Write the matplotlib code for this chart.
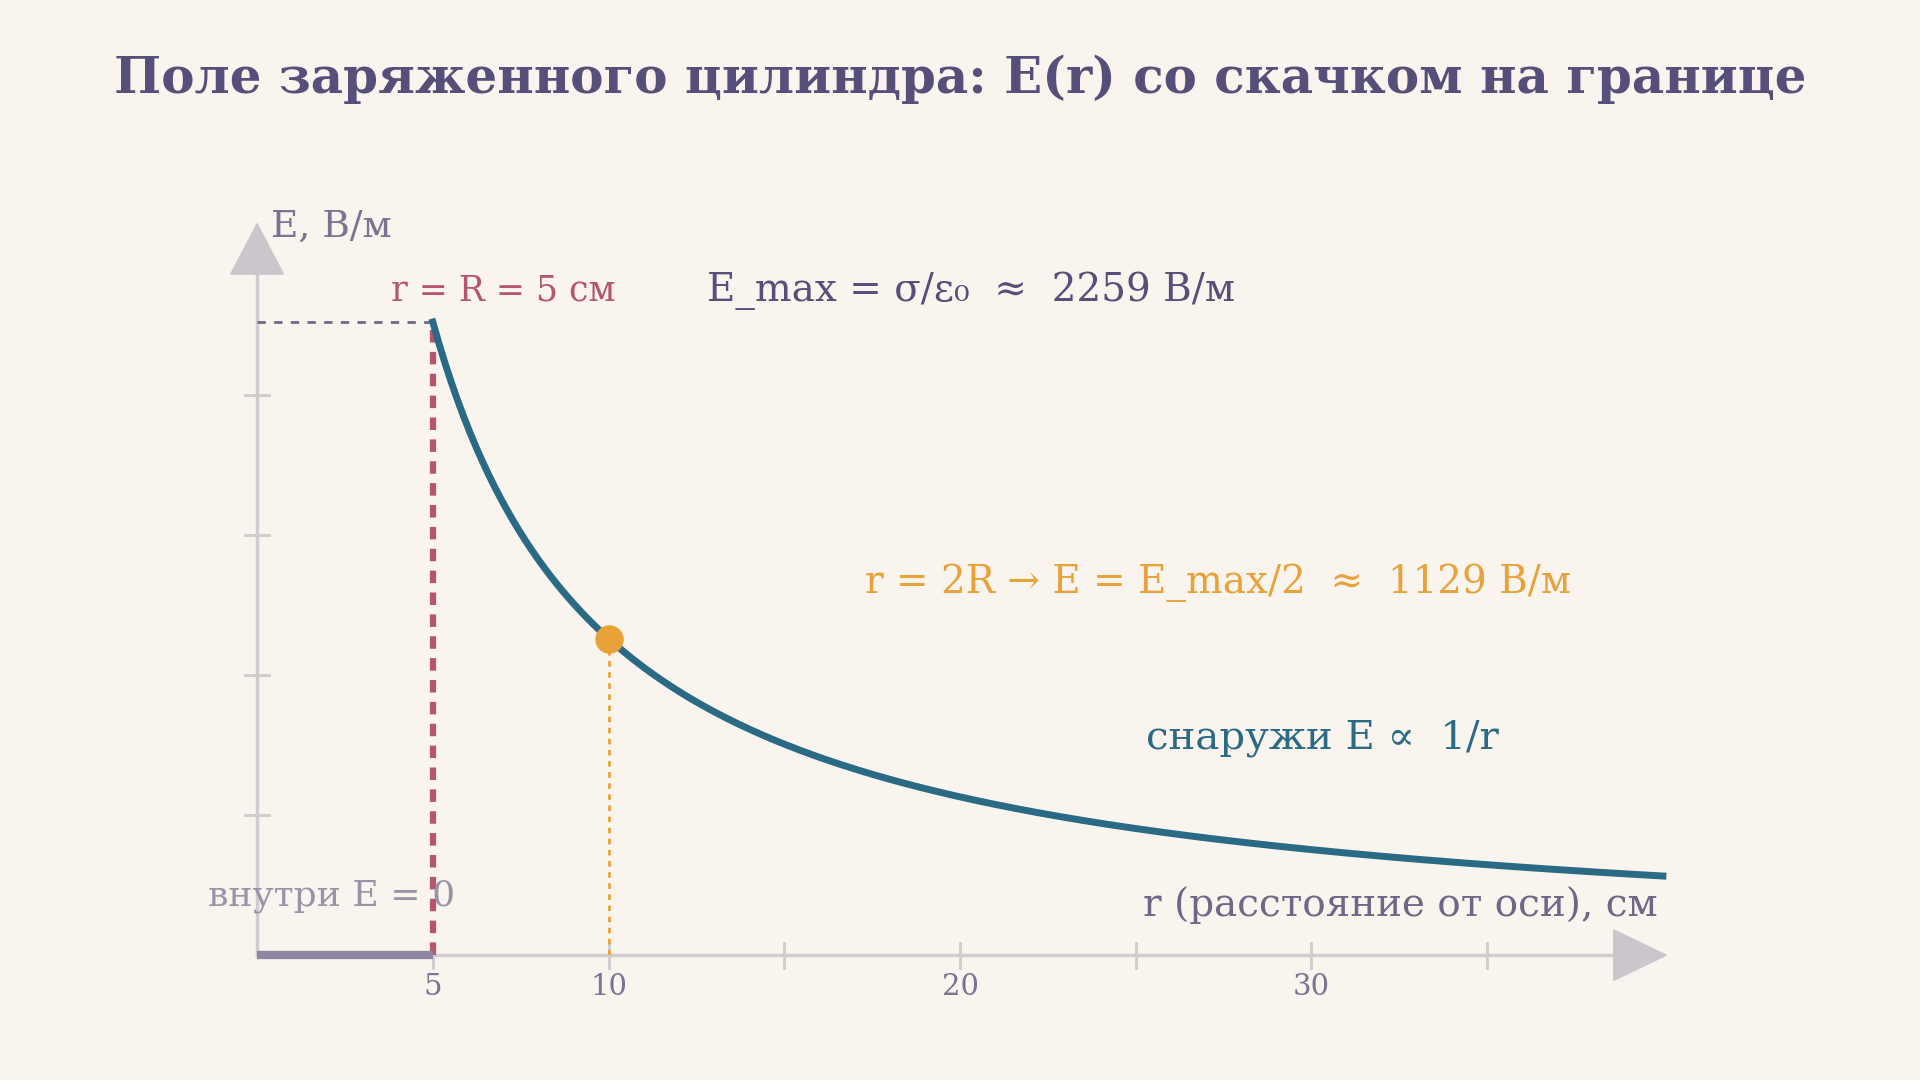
import numpy as np
import matplotlib.pyplot as plt
from matplotlib.patches import Polygon

R = 5.0
E_max = 2259
r_ticks = [5, 10, 20, 30]
r_minor = [15, 25, 35]
e_ticks = [500, 1000, 1500, 2000]

bg = '#FAF4EE'
purple = '#564F7A'
crimson = '#B5566E'
teal = '#2A6A85'
orange = '#E8A23A'
axis_c = '#CFCBCE'

fig = plt.figure(figsize=(19.2, 10.8), dpi=100, facecolor=bg)
ax = fig.add_axes([0.1339, 0.1156, 0.7322, 0.5862])
ax.set_facecolor(bg)
ax.set_xlim(0, 40)
ax.set_ylim(0, E_max)
ax.axis('off')
plt.rcParams['font.family'] = 'DejaVu Serif'

# axes
ax.plot([0, 38.6], [0, 0], color=axis_c, lw=2.5, clip_on=False, zorder=1)
ax.plot([0, 0], [0, 2440], color=axis_c, lw=2.5, clip_on=False, zorder=1)
ax.add_patch(Polygon([[38.6, -90], [38.6, 90], [40.1, 0]], closed=True,
                     color='#CAC6CC', clip_on=False))
ax.add_patch(Polygon([[-0.75, 2430], [0.75, 2430], [0, 2610]], closed=True,
                     color='#CAC6CC', clip_on=False))
for t in r_ticks + r_minor:
    ax.plot([t, t], [-45, 45], color=axis_c, lw=2, clip_on=False)
for e in e_ticks:
    ax.plot([-0.35, 0.35], [e, e], color=axis_c, lw=2, clip_on=False)
for t in r_ticks:
    ax.text(t, -115, str(t), ha='center', va='center', fontsize=21,
            color='#7A7391')

# inside: E = 0
ax.plot([0, R], [0, 0], color='#8E87A3', lw=6, solid_capstyle='butt',
        clip_on=False, zorder=3)
ax.plot([0, R], [E_max, E_max], color='#6E6888', lw=2, ls=(0, (3, 3)),
        clip_on=False)
ax.plot([R, R], [0, E_max], color=crimson, lw=4.5, ls=(0, (2, 1.5)),
        clip_on=False)

# outside curve
r = np.linspace(R, 40, 400)
ax.plot(r, E_max * R / r, color=teal, lw=5, clip_on=False, zorder=4)
ax.plot([2 * R, 2 * R], [0, E_max / 2], color=orange, lw=2, ls=(0, (2, 2)))
ax.scatter([2 * R], [E_max / 2], s=380, color=orange, zorder=5, clip_on=False)

ax.text(0.4, 2600, 'E, В/м', fontsize=27, color='#7A7391', va='center')
ax.text(3.8, 2370, 'r = R = 5 см', fontsize=25, color=crimson, va='center')
ax.text(12.8, 2370, 'E_max = σ/ε₀  ≈  2259 В/м', fontsize=28, color=purple,
        va='center')
ax.text(17.3, 1330, 'r = 2R → E = E_max/2  ≈  1129 В/м', fontsize=28,
        color=orange, va='center')
ax.text(25.3, 775, 'снаружи E ∝  1/r', fontsize=29, color=teal, va='center')
ax.text(-1.4, 210, 'внутри E = 0', fontsize=26, color='#9A93A8', va='center',
        zorder=6)
ax.text(25.2, 180, 'r (расстояние от оси), см', fontsize=28, color='#6E6888',
        va='center')

fig.text(0.5, 0.927, 'Поле заряженного цилиндра: E(r) со скачком на границе',
         ha='center', va='center', fontsize=36, fontweight='bold', color=purple)

fig.savefig('out.png', dpi=100, facecolor=bg)
